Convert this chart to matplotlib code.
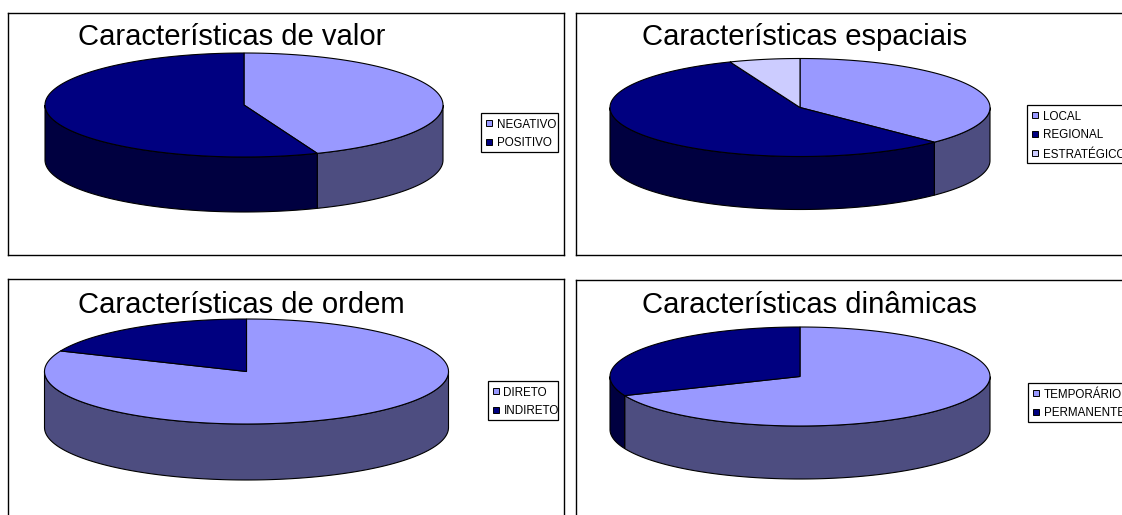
import numpy as np
import matplotlib
matplotlib.use("Agg")
import matplotlib.pyplot as plt
from matplotlib.patches import Rectangle

plt.rcParams['font.family'] = ['Liberation Sans', 'DejaVu Sans']

valor_labels = ['NEGATIVO', 'POSITIVO']
valor_values = [44, 56]

espaciais_labels = ['LOCAL', 'REGIONAL', 'ESTRATÉGICO']
espaciais_values = [37.5, 56.5, 6]

ordem_labels = ['DIRETO', 'INDIRETO']
ordem_values = [81.4, 18.6]

dinamicas_labels = ['TEMPORÁRIO', 'PERMANENTE']
dinamicas_values = [68.7, 31.3]

top_colors = ['#9999ff', '#000080', '#ccccff']
side_colors = ['#4d4d80', '#000040', '#666680']

FIG_W, FIG_H = 1122, 515
ROW_H = 19


def arc(cx, cy, rx, ry, start, end):
    # angles in degrees, clockwise from the top of the ellipse
    t = np.radians(np.linspace(start, end, 200))
    return cx + rx * np.sin(t), cy - ry * np.cos(t)


def pie3d(ax, cx, cy, rx, ry, depth, values):
    edges = np.cumsum([0] + list(values)) / sum(values) * 360

    # side wall first, only the part facing the viewer
    for i in range(len(values)):
        a = max(edges[i], 90)
        b = min(edges[i + 1], 270)
        if b <= a:
            continue
        x, y = arc(cx, cy, rx, ry, a, b)
        xs = np.concatenate([x, x[::-1]])
        ys = np.concatenate([y, y[::-1] + depth])
        ax.fill(xs, ys, facecolor=side_colors[i], edgecolor='black', linewidth=0.8)

    for i in range(len(values)):
        x, y = arc(cx, cy, rx, ry, edges[i], edges[i + 1])
        xs = np.concatenate([[cx], x])
        ys = np.concatenate([[cy], y])
        ax.fill(xs, ys, facecolor=top_colors[i], edgecolor='black', linewidth=0.8)


def legend_box(ax, x0, y0, x1, labels):
    # boxed key with tight right padding, rows at a fixed pitch
    y1 = y0 + ROW_H * len(labels) + 1
    ax.add_patch(Rectangle((x0, y0), x1 - x0, y1 - y0, facecolor='white',
                           edgecolor='black', linewidth=0.9, zorder=3))
    for i, label in enumerate(labels):
        yc = y0 + 10 + ROW_H * i
        ax.add_patch(Rectangle((x0 + 5, yc - 3), 6, 6, facecolor=top_colors[i],
                               edgecolor='black', linewidth=0.7, zorder=4))
        ax.text(x0 + 15.5, yc, label, fontsize=8.4, color='black', ha='left',
                va='center_baseline', zorder=4)


def panel(box, title, title_pos, labels, values, geom, legend_pos):
    left, top, right, bottom = box
    ax = fig.add_axes([left / FIG_W, 1 - bottom / FIG_H,
                       (right - left) / FIG_W, (bottom - top) / FIG_H])
    ax.set_xlim(left, right)
    ax.set_ylim(bottom, top)
    ax.set_xticks([])
    ax.set_yticks([])
    for s in ax.spines.values():
        s.set_linewidth(1.0)
        s.set_color('black')

    pie3d(ax, *geom, values)

    ax.text(title_pos[0], title_pos[1], title, fontsize=21.1, color='black',
            ha='left', va='baseline')

    legend_box(ax, *legend_pos, labels)
    return ax


fig = plt.figure(figsize=(FIG_W / 100, FIG_H / 100), dpi=100, facecolor='white')

panel((7.5, 12.5, 564, 254.5), 'Características de valor', (78, 45),
      valor_labels, valor_values, (244, 105, 199, 52, 55), (481, 113, 557.5))
panel((575.5, 12.5, 1135, 255), 'Características espaciais', (642, 45),
      espaciais_labels, espaciais_values, (800, 107.5, 190, 49, 53), (1027, 105, 1130))
panel((7.5, 278.5, 564, 530), 'Características de ordem', (78, 313),
      ordem_labels, ordem_values, (246.5, 371.5, 202, 52.5, 56), (488, 381, 558))
panel((575.5, 280, 1135, 530), 'Características dinâmicas', (642, 313),
      dinamicas_labels, dinamicas_values, (800, 376.5, 190, 49.5, 53), (1028, 383, 1130))

fig.savefig('out.png', dpi=100)
